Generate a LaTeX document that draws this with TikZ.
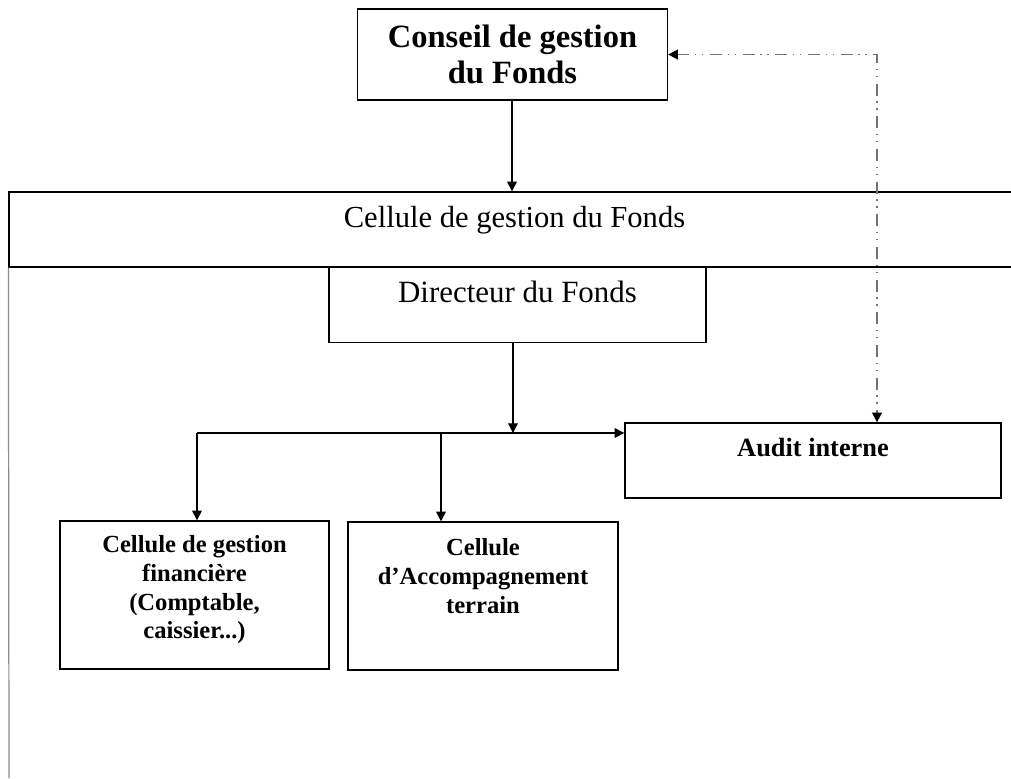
\documentclass[tikz,border=0pt]{standalone}
\usepackage{fontspec}
\setmainfont{Liberation Serif}
\usetikzlibrary{arrows.meta}
\begin{document}
\begin{tikzpicture}[x=0.02cm,y=-0.02cm,
    boite/.style={draw,line width=0.8pt,inner sep=0pt,align=center},
    fleche/.style={line width=0.7pt,-{Triangle[length=5.5pt,width=5.5pt]}},
    controle/.style={black!55,line width=1pt,dash pattern=on 6.8pt off 3.2pt on 0.8pt off 3.2pt on 0.8pt off 3.8pt,
        {Triangle[length=5.5pt,width=5.5pt,color=black]}-{Triangle[length=5.5pt,width=5.5pt,color=black]}}]
    \useasboundingbox (0,0) rectangle (1011,778);
    \node[boite,minimum width=6.2cm,minimum height=1.82cm,font=\fontsize{18.5}{20.5}\selectfont\bfseries] (conseil) at (512.5,54.5) {Conseil de gestion\\du Fonds};
    \node[boite,minimum width=20.22cm,minimum height=1.5cm,text height=12pt,text depth=14.8pt,font=\fontsize{17.4}{20}\selectfont] (fonds) at (514.5,229.5) {Cellule de gestion du Fonds};
    \node[boite,minimum width=7.54cm,minimum height=1.51cm,text height=12pt,text depth=15.1pt,font=\fontsize{17.6}{20}\selectfont] (directeur) at (517.5,304.75) {Directeur du Fonds};
    \node[boite,minimum width=7.52cm,minimum height=1.5cm,text height=11pt,text depth=15pt,font=\fontsize{15}{17}\selectfont\bfseries] (audit) at (813,460.5) {Audit interne};
    \node[boite,minimum width=5.38cm,minimum height=2.96cm,text depth=9pt,font=\fontsize{14}{16.4}\selectfont\bfseries] (finance) at (194.5,595) {Cellule de gestion\\financière\\(Comptable,\\caissier...)};
    \node[boite,minimum width=5.4cm,minimum height=2.96cm,text depth=23pt,font=\fontsize{14}{16.4}\selectfont\bfseries] (terrain) at (483,596) {Cellule\\d’Accompagnement\\terrain};
    \coordinate (jonction) at (513,433);
    \coordinate (gauche) at (197,433);
    \coordinate (branche) at (441,433);
    \coordinate (coin) at (877,54.5);
    \coordinate (bas) at (9,778);
    \draw[black!45,line width=0.7pt] (fonds.south west) -- (bas);
    \draw[fleche] (conseil.south -| 512,0) -- (fonds.north -| 512,0);
    \draw[fleche] (directeur.south -| jonction) -- (jonction);
    \draw[fleche] (gauche) -- (audit.west |- gauche);
    \draw[fleche] (gauche) -- (gauche |- finance.north);
    \draw[fleche] (branche) -- (branche |- terrain.north);
    \draw[controle] (conseil.east) -- (coin) -- (coin |- audit.north);
\end{tikzpicture}
\end{document}
